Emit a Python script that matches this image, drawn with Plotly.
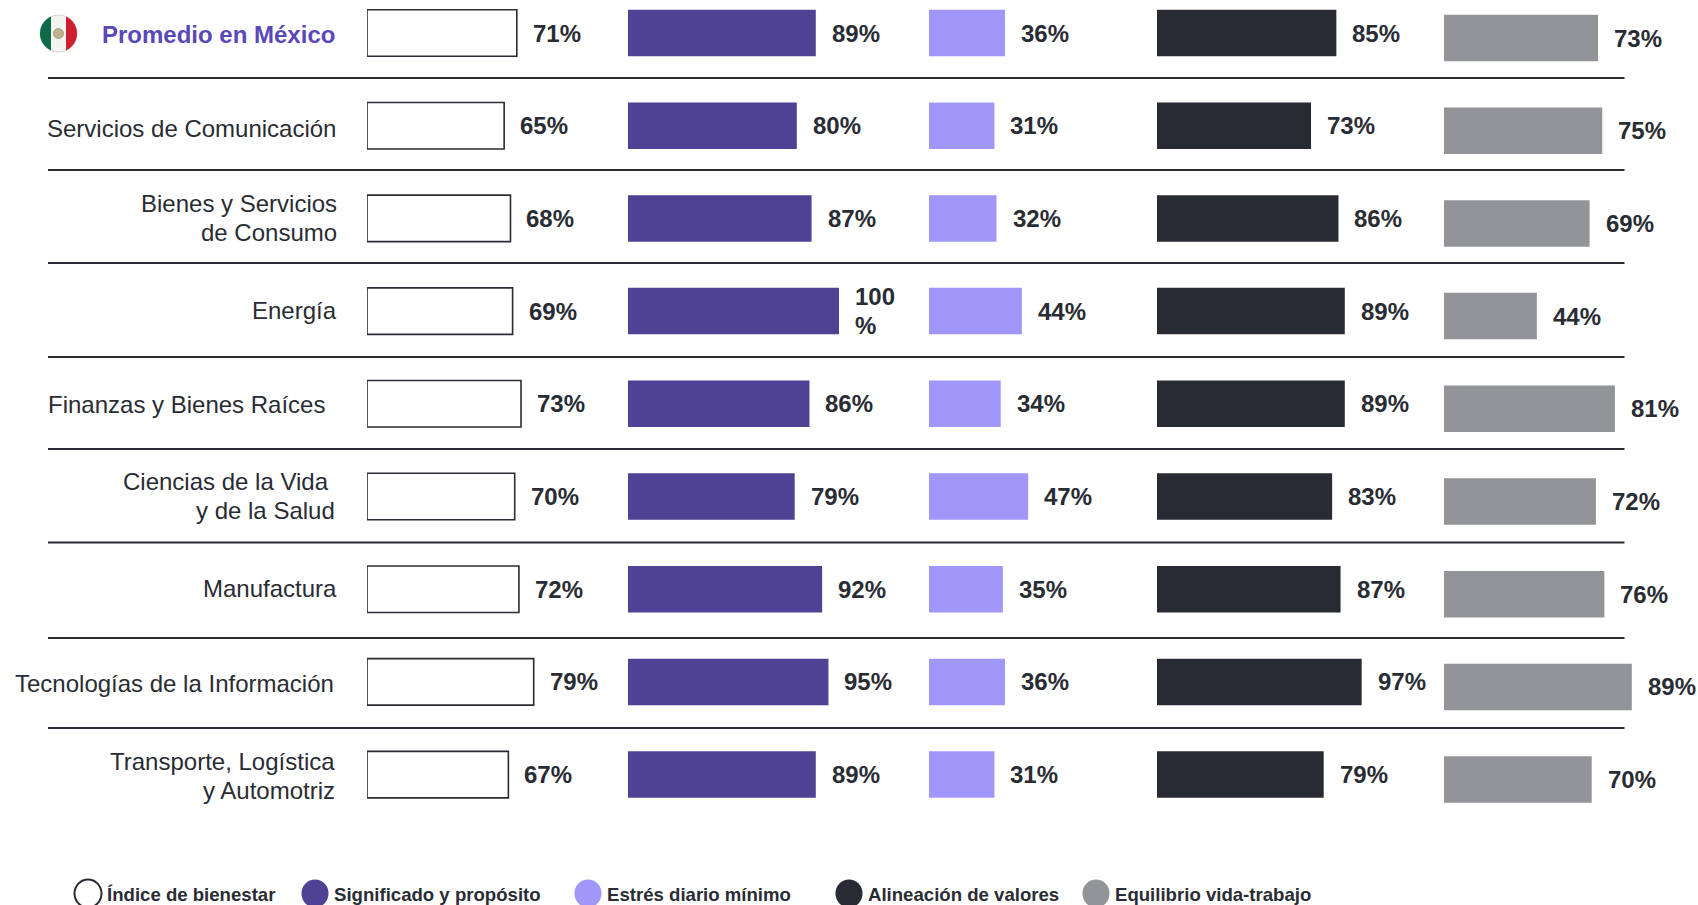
import numpy as np
import plotly.graph_objects as go

# Chart data
sectors = [
    "Promedio en México",
    "Servicios de Comunicación",
    "Bienes y Servicios<br>de Consumo",
    "Energía",
    "Finanzas y Bienes Raíces",
    "Ciencias de la Vida\u00a0<br>y de la Salud",
    "Manufactura",
    "Tecnologías de la Información",
    "Transporte, Logística<br>y Automotriz",
]
bienestar = [71, 65, 68, 69, 73, 70, 72, 79, 67]
significado = [89, 80, 87, 100, 86, 79, 92, 95, 89]
estres = [36, 31, 32, 44, 34, 47, 35, 36, 31]
alineacion = [85, 73, 86, 89, 89, 83, 87, 97, 79]
equilibrio = [73, 75, 69, 44, 81, 72, 76, 89, 70]
legend_names = ["Índice de bienestar", "Significado y propósito", "Estrés diario mínimo",
                "Alineación de valores", "Equilibrio vida-trabajo"]

# Page geometry
W, H = 1698, 905
ROW0, ROW_STEP, BAR_H = 33.0, 92.7, 46.5
PX_PER_PCT = 2.11
GRAY_DROP = 5
LINE_STEP = 29
panel_left = [367, 628, 929, 1157, 1444]
row_label_right = [337, 337.5, 338.5, 338.5, 327, 337, 338.5, 336, 336.5]
row_label_drop = [1, 3, 0, -1, 1, -0.5, -1, 2, 1.5]
rule_y = [78, 170, 263, 357, 449, 542.5, 638, 728]

INK = "#2a2c34"
FONT = "Liberation Sans"
series = [
    (bienestar, "#ffffff", INK, 1.6),
    (significado, "#4f4295", "#4f4295", 0),
    (estres, "#a197fb", "#a197fb", 0),
    (alineacion, "#282b33", "#282b33", 0),
    (equilibrio, "#939497", "#939497", 0),
]


def y_range(drop):
    return [(H - ROW0 - drop) / ROW_STEP, -(ROW0 + drop) / ROW_STEP]


def px(x):
    return x / W


def py(y):
    return 1 - y / H


fig = go.Figure()
annotations = []
shapes = []

# One horizontal-bar panel per metric, all on the same percent scale
for k, ((values, fill, edge, lw), name, left) in enumerate(zip(series, legend_names, panel_left)):
    xa = "x" if k == 0 else f"x{k + 1}"
    ya = "y2" if k == 4 else "y"
    fig.add_trace(go.Bar(
        x=values, y=list(range(len(sectors))), orientation="h", name=name,
        width=BAR_H / ROW_STEP, xaxis=xa, yaxis=ya, showlegend=False,
        marker=dict(color=fill, line=dict(color=edge, width=lw)),
    ))
    fig.layout[f"xaxis{'' if k == 0 else k + 1}"] = dict(
        domain=[px(left), px(left + 100 * PX_PER_PCT)], range=[0, 100],
        visible=False, fixedrange=True, anchor=ya,
    )
    for i, v in enumerate(values):
        # The full-scale value wraps its percent sign onto a second line
        lines = [f"{v}%"] if v < 100 else [f"{v}", "%"]
        for j, line in enumerate(lines):
            offset = (j - (len(lines) - 1) / 2) * LINE_STEP
            annotations.append(dict(
                x=v, y=i, xref=xa, yref=ya, text=f"<b>{line}</b>", showarrow=False,
                xanchor="left", yanchor="middle", align="left", xshift=14,
                yshift=-offset,
                font=dict(family=FONT, size=24, color=INK),
            ))

fig.update_layout(
    yaxis=dict(domain=[0, 1], range=y_range(0), visible=False, fixedrange=True),
    yaxis2=dict(domain=[0, 1], range=y_range(GRAY_DROP), visible=False, fixedrange=True,
                overlaying="y", anchor="x5"),
)

# Row captions, one annotation per text line to hold a tight line pitch
for i, (label, right, drop) in enumerate(zip(sectors, row_label_right, row_label_drop)):
    first = i == 0
    lines = label.split("<br>")
    for j, line in enumerate(lines):
        offset = (j - (len(lines) - 1) / 2) * LINE_STEP
        annotations.append(dict(
            x=px(right), y=i, xref="paper", yref="y",
            text=f"<b>{line}</b>" if first else line,
            showarrow=False, xanchor="right", yanchor="middle", align="right",
            yshift=-offset - drop,
            font=dict(family=FONT, size=24, color="#5a48b8" if first else INK),
        ))

# Separators between rows
for y in rule_y:
    shapes.append(dict(type="line", xref="paper", yref="paper", x0=px(48), x1=px(1624.5),
                       y0=py(y), y1=py(y), line=dict(color=INK, width=2.2)))


def region(points, color):
    path = "M" + "L".join(f"{px(x):.5f},{py(y):.5f}" for x, y in points) + "Z"
    return dict(type="path", xref="paper", yref="paper", path=path, fillcolor=color,
                line=dict(width=0), layer="above")


# Round Mexican flag beside the national average
FX, FY, FR = 58.5, 33.5, 18.5
ang = np.linspace(0, 2 * np.pi, 121)
shapes.append(dict(type="circle", xref="paper", yref="paper", x0=px(FX - FR), x1=px(FX + FR),
                   y0=py(FY + FR), y1=py(FY - FR), fillcolor="#f4f4f2",
                   line=dict(color="#c9c9c9", width=0.8)))
d = FR * 0.36
left_cap = [(FX + FR * np.cos(t), FY + FR * np.sin(t)) for t in ang
            if FX + FR * np.cos(t) <= FX - d]
right_cap = [(FX + FR * np.cos(t), FY + FR * np.sin(t)) for t in ang
             if FX + FR * np.cos(t) >= FX + d]
left_cap.sort(key=lambda p: np.arctan2(p[1] - FY, p[0] - FX) % (2 * np.pi))
right_cap.sort(key=lambda p: (np.arctan2(p[1] - FY, p[0] - FX) + np.pi) % (2 * np.pi))
shapes.append(region(left_cap, "#0f6b47"))
shapes.append(region(right_cap, "#cf1f2e"))
shapes.append(dict(type="circle", xref="paper", yref="paper", x0=px(FX - 5), x1=px(FX + 5),
                   y0=py(FY + 5), y1=py(FY - 5), fillcolor="#b59a6a", opacity=0.75,
                   line=dict(color="#7f8f62", width=1), layer="above"))

# Legend row along the bottom edge
legend_cx = [88, 315, 588, 849, 1096]
legend_text_x = [105, 332, 605, 866, 1113]
LEG_Y, LEG_RX, LEG_RY = 893.5, 13.5, 14
for (values, fill, edge, lw), cx, tx, name in zip(series, legend_cx, legend_text_x, legend_names):
    shapes.append(dict(type="circle", xref="paper", yref="paper",
                       x0=px(cx - LEG_RX), x1=px(cx + LEG_RX),
                       y0=py(LEG_Y + LEG_RY), y1=py(LEG_Y - LEG_RY), fillcolor=fill,
                       line=dict(color=edge, width=2 if lw else 0)))
    annotations.append(dict(
        x=px(tx), y=py(LEG_Y + 0.5), xref="paper", yref="paper", text=f"<b>{name}</b>",
        showarrow=False, xanchor="left", yanchor="middle",
        font=dict(family=FONT, size=18.6, color=INK),
    ))

fig.update_layout(
    width=W, height=H, margin=dict(l=0, r=0, t=0, b=0), autosize=False,
    paper_bgcolor="white", plot_bgcolor="white", barmode="overlay",
    annotations=annotations, shapes=shapes, font=dict(family=FONT),
)
fig.write_html("out.html", config={"displayModeBar": False})
